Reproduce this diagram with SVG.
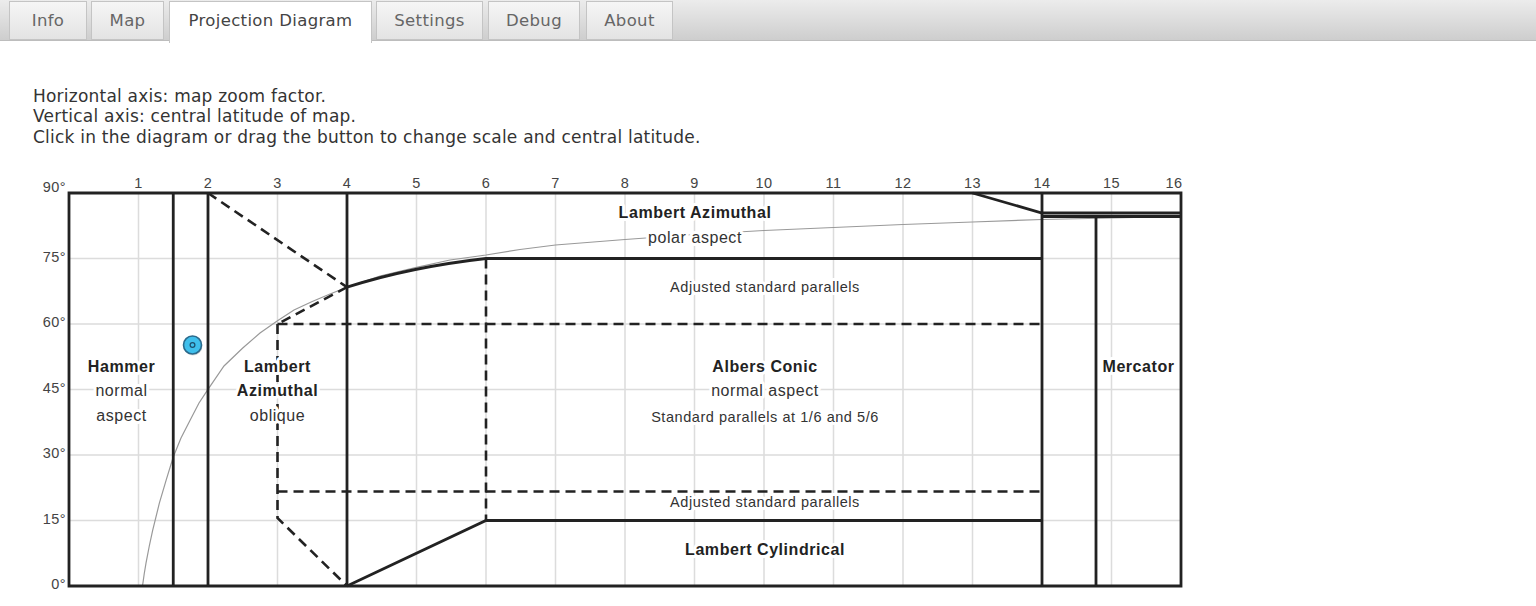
<svg xmlns="http://www.w3.org/2000/svg" width="1536" height="606" viewBox="0 0 1536 606">
<defs>
<linearGradient id="bar" x1="0" y1="0" x2="0" y2="1"><stop offset="0" stop-color="#ececec"/><stop offset="1" stop-color="#cdcdcd"/></linearGradient>
<linearGradient id="tab" x1="0" y1="0" x2="0" y2="1"><stop offset="0" stop-color="#f6f6f6"/><stop offset="1" stop-color="#e3e3e3"/></linearGradient>
</defs>
<style>
.tabt{font-family:"DejaVu Sans",Verdana,sans-serif;font-size:16.5px;fill:#666;text-anchor:middle;letter-spacing:0.35px}
.intro{font-family:"DejaVu Sans",Verdana,sans-serif;font-size:17px;fill:#333;letter-spacing:0.22px}
.grid{stroke:#dcdcdc;stroke-width:1.5;fill:none}
.thick{stroke:#222;stroke-width:2.8;fill:none}
.dash{stroke:#222;stroke-width:2.6;fill:none;stroke-dasharray:10 6}
.curve{stroke:#999;stroke-width:1.2;fill:none}
.tick{font-family:"Liberation Sans",Arial,sans-serif;font-size:14.5px;fill:#444;letter-spacing:0.4px}
.b{font-family:"Liberation Sans",Arial,sans-serif;font-size:16px;font-weight:bold;fill:#222;text-anchor:middle;letter-spacing:0.55px;stroke:#fff;stroke-width:6;paint-order:stroke;stroke-linejoin:round}
.n{font-family:"Liberation Sans",Arial,sans-serif;font-size:16px;fill:#333;text-anchor:middle;letter-spacing:0.55px;stroke:#fff;stroke-width:6;paint-order:stroke;stroke-linejoin:round}
.s{font-family:"Liberation Sans",Arial,sans-serif;font-size:14.5px;fill:#333;text-anchor:middle;letter-spacing:0.55px;stroke:#fff;stroke-width:6;paint-order:stroke;stroke-linejoin:round}
</style>
<rect width="1536" height="606" fill="#fff"/>
<g id="tabbar">
<rect x="0" y="0" width="1536" height="41" fill="url(#bar)"/>
<line x1="0" y1="40.5" x2="1536" y2="40.5" stroke="#bdbdbd"/>
<g id="tab-info"><rect x="9.5" y="1.5" width="77" height="38" fill="url(#tab)" stroke="#c4c4c4"/><text class="tabt" x="48" y="26">Info</text></g>
<g id="tab-map"><rect x="91.5" y="1.5" width="72" height="38" fill="url(#tab)" stroke="#c4c4c4"/><text class="tabt" x="127.5" y="26">Map</text></g>
<g id="tab-projection"><rect x="169.5" y="1.5" width="202" height="41" fill="#fff" stroke="#c4c4c4"/><rect x="170" y="38" width="201" height="6" fill="#fff"/><text class="tabt" x="270.5" y="26" fill="#444" style="fill:#444">Projection Diagram</text></g>
<g id="tab-settings"><rect x="376.5" y="1.5" width="106" height="38" fill="url(#tab)" stroke="#c4c4c4"/><text class="tabt" x="429.5" y="26">Settings</text></g>
<g id="tab-debug"><rect x="488.5" y="1.5" width="91" height="38" fill="url(#tab)" stroke="#c4c4c4"/><text class="tabt" x="534" y="26">Debug</text></g>
<g id="tab-about"><rect x="586.5" y="1.5" width="86" height="38" fill="url(#tab)" stroke="#c4c4c4"/><text class="tabt" x="629.5" y="26">About</text></g>
</g>
<g id="intro">
<text class="intro" x="33" y="102">Horizontal axis: map zoom factor.</text>
<text class="intro" x="33" y="122">Vertical axis: central latitude of map.</text>
<text class="intro" x="33" y="143">Click in the diagram or drag the button to change scale and central latitude.</text>
</g>
<g id="grid">
<path class="grid" d="M138.5 193V586M208 193V586M277.5 193V586M347 193V586M416.5 193V586M486 193V586M555.5 193V586M625 193V586M694.5 193V586M764 193V586M833.5 193V586M903 193V586M972.5 193V586M1042 193V586M1111.5 193V586"/>
<path class="grid" d="M69 258.5H1181M69 324H1181M69 389.5H1181M69 455H1181M69 520.5H1181"/>
</g>
<g id="axis-labels">
<g class="tick" text-anchor="middle">
<text x="138.5" y="188">1</text><text x="208" y="188">2</text><text x="277.5" y="188">3</text><text x="347" y="188">4</text><text x="416.5" y="188">5</text><text x="486" y="188">6</text><text x="555.5" y="188">7</text><text x="625" y="188">8</text><text x="694.5" y="188">9</text><text x="764" y="188">10</text><text x="833.5" y="188">11</text><text x="903" y="188">12</text><text x="972.5" y="188">13</text><text x="1042" y="188">14</text><text x="1111.5" y="188">15</text><text x="1174" y="188">16</text>
</g>
<g class="tick" text-anchor="end">
<text x="66" y="191.5">90°</text><text x="66" y="261.5">75°</text><text x="66" y="327">60°</text><text x="66" y="392.5">45°</text><text x="66" y="458">30°</text><text x="66" y="523.5">15°</text><text x="66" y="589">0°</text>
</g>
</g>
<g id="curve">
<polyline class="curve" points="142.5,586 144.2,574 146,563.2 149.3,546 152.6,530.6 159.35,503.2 166.3,479.7 173.25,457 181,438 190.6,419.3 199,403 208,389.4 224,366 242.75,348 260,333 277.5,320.8 294,310 312.25,301.5 330,294 347,287.2 380,276 416.5,267.3 450,260 486,255 520,249.5 555.5,245 625,239.5 694.5,234.5 764,230.5 833.5,227.5 903,224.5 972.5,222 1042,219.5 1111.5,218 1181,216.5"/>
</g>
<g id="connectors">
<path class="thick" d="M69 193H1181V586H69Z"/>
<path class="thick" d="M173.25 193V586M208 193V586M347 193V586M1042 193V586M1096 216V586"/>
<path class="thick" d="M972.5 193L1042 213H1181M1042 216.5H1181"/>
<path class="thick" d="M347 287.2Q410 267 486 258.5H1042"/>
<path class="thick" d="M347 586L486 520.5H1042"/>
<path class="dash" d="M208 193L347 287.2"/>
<path class="dash" d="M347 287.2L277.5 324"/>
<path class="dash" d="M277.5 324H1042M277.5 491.5H1042"/>
<path class="dash" d="M277.5 324V518L347 586"/>
<path class="dash" d="M486 258.5V520.5"/>
</g>
<g id="node-lambert-azimuthal-polar">
<text class="b" x="695" y="218">Lambert Azimuthal</text>
<text class="n" x="695" y="243">polar aspect</text>
</g>
<g id="node-adjusted-top"><text class="s" x="765" y="292">Adjusted standard parallels</text></g>
<g id="node-hammer">
<text class="b" x="121.5" y="372">Hammer</text>
<text class="n" x="121.5" y="396">normal</text>
<text class="n" x="121.5" y="421">aspect</text>
</g>
<g id="node-lambert-azimuthal-oblique">
<text class="b" x="277.5" y="372">Lambert</text>
<text class="b" x="277.5" y="396">Azimuthal</text>
<text class="n" x="277.5" y="421">oblique</text>
</g>
<g id="node-albers">
<text class="b" x="765" y="372">Albers Conic</text>
<text class="n" x="765" y="396">normal aspect</text>
<text class="s" x="765" y="422">Standard parallels at 1/6 and 5/6</text>
</g>
<g id="node-adjusted-bottom"><text class="s" x="765" y="507">Adjusted standard parallels</text></g>
<g id="node-lambert-cylindrical"><text class="b" x="765" y="555">Lambert Cylindrical</text></g>
<g id="node-mercator"><text class="b" x="1138.5" y="372">Mercator</text></g>
<g id="button">
<circle cx="193" cy="346" r="9.5" fill="#000" opacity="0.15"/>
<circle cx="192.5" cy="345" r="9" fill="#3fbfec" stroke="#2a6a8c" stroke-width="1.6"/>
<circle cx="192.5" cy="345" r="2.4" fill="none" stroke="#1d4f6e" stroke-width="1.2"/>
</g>
</svg>
